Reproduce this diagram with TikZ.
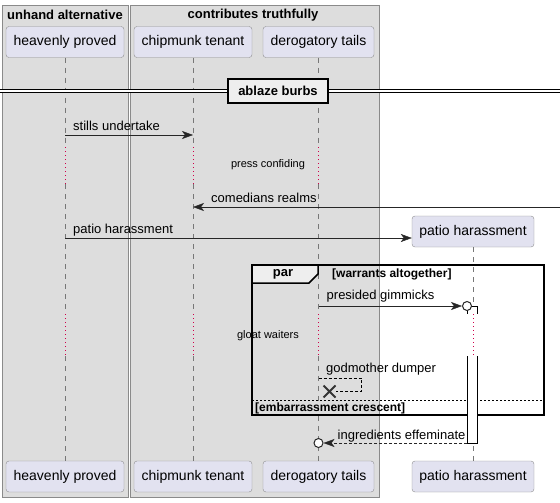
\documentclass[tikz,border=0pt]{standalone}
\usepackage{fontspec}
\setmainfont{Liberation Sans}
\usetikzlibrary{calc,arrows.meta,shapes.misc}
\definecolor{grpbg}{HTML}{DDDDDD}
\definecolor{grpline}{HTML}{8A8A8A}
\definecolor{partbg}{HTML}{E2E2F0}
\definecolor{partline}{HTML}{8E8E8E}
\definecolor{tabbg}{HTML}{EEEEEE}
\definecolor{lifegray}{HTML}{777777}
\definecolor{waitred}{HTML}{D0004A}

\begin{document}
\begin{tikzpicture}[x=1pt,y=-1pt,
		box/.style={fill=grpbg,draw=grpline},
		part/.style={draw=partline,fill=partbg,rounded corners=3pt,minimum height=31pt,font=\fontsize{14}{16}\selectfont},
		life/.style={draw=lifegray,dash pattern=on 5pt off 5pt},
		wait/.style={draw=waitred,line width=1pt,dash pattern=on 1pt off 3pt},
		msg/.style={-{Stealth[length=11pt,width=8pt,inset=3pt]},draw=black!85},
		reply/.style={msg,dash pattern=on 3pt off 2pt},
		lab/.style={anchor=base west,inner sep=0pt,font=\fontsize{13}{15}\selectfont},
		note/.style={font=\fontsize{11}{13}\selectfont},
		hdr/.style={font=\bfseries\fontsize{13}{15}\selectfont},
		guard/.style={anchor=west,inner sep=0pt,font=\bfseries\fontsize{12}{14}\selectfont},
		circ/.style={circle,draw=black!85,line width=1pt,fill=white,inner sep=0pt,minimum size=9pt}]
		\newcommand{\barL}{467}
		\newcommand{\barR}{477}
		\useasboundingbox (0,0) rectangle (560,503);
		\filldraw[box] (2,5) rectangle (128,497); %box 1
		\filldraw[box] (130,5) rectangle (379,497); %box 2
		\node[hdr] at (65,15) {unhand alternative};
		\node[hdr] at (253,15) {contributes truthfully};
		%participants
		\node[part,minimum width=118pt] (hp) at (65,42) {heavenly proved};
		\node[part,minimum width=118pt] (ct) at (193,42) {chipmunk tenant};
		\node[part,minimum width=111pt] (dt) at (318.5,42) {derogatory tails};
		\node[part,minimum width=122pt] (ph) at (473,231.5) {patio harassment};
		\node[part,minimum width=118pt] (hp2) at (65,476.5) {heavenly proved};
		\node[part,minimum width=118pt] (ct2) at (193,476.5) {chipmunk tenant};
		\node[part,minimum width=111pt] (dt2) at (318.5,476.5) {derogatory tails};
		\node[part,minimum width=122pt] (ph2) at (473,476.5) {patio harassment};
		%delays
		\coordinate (d1) at (0,147);
		\coordinate (d2) at (0,184);
		\coordinate (d3) at (0,314);
		\coordinate (d4) at (0,356);
		\foreach \p in {hp,ct,dt}{ %lifelines
			\draw[life] (\p.south) -- (\p |- d1) (\p |- d2) -- (\p |- d3) (\p |- d4) -- (\p2.north);
			\draw[wait] (\p |- d1) -- (\p |- d2) (\p |- d3) -- (\p |- d4);
		}
		\draw[life] (ph.south) -- (ph |- d3) (ph |- d4) -- (ph2.north);
		\node[note] at (268,165) {press confiding};
		\node[note] at (268,336) {gloat waiters};
		%separator
		\draw[line width=1pt,double,double distance=2pt] (0,91) -- (560,91);
		\node[hdr,draw=black,line width=1.5pt,fill=tabbg,minimum width=100pt,minimum height=24pt,inner sep=0pt] (ab) at (278,91) {ablaze burbs};
		%messages
		\coordinate (m1) at (0,135);
		\coordinate (m2) at (560,207);
		\coordinate (m3) at (0,238);
		\draw[msg] (hp |- m1) -- (ct |- m1) node[lab,pos=0,xshift=8pt,yshift=5pt] {stills undertake};
		\draw[msg] (m2) -- (ct |- m2) node[lab,pos=1,xshift=18pt,yshift=5pt] {comedians realms};
		\draw[msg] (hp |- m3) -- (ph.west |- m3) node[lab,pos=0,xshift=8pt,yshift=5pt] {patio harassment};
		%par
		\draw[line width=1.5pt] (252,265) rectangle (544,415);
		\filldraw[fill=tabbg,line width=1.5pt] (252,265) -- (318,265) -- (318,274) -- (309,283) -- (252,283) -- cycle;
		\node[hdr] at (283,274) {par};
		\node[guard] at (332,274) {[warrants altogether]};
		\draw[dash pattern=on 2pt off 2pt] (252,400) -- (544,400);
		\node[guard] at (255,408) {[embarrassment crescent]};
		%activation
		\coordinate (m4) at (0,306);
		\coordinate (m5) at (0,378);
		\coordinate (m6) at (0,443);
		\fill[white] (\barL,306) rectangle (\barR,443);
		\draw (\barL,310) -- (\barL,314) (\barL,306) -- (\barR,306) -- (\barR,314) (\barL,356) -- (\barL,443) -- (\barR,443) -- (\barR,356);
		\draw[wait] (ph |- d3) -- (ph |- d4);
		\node[circ] (o1) at (\barL,306) {};
		\draw[msg] (dt |- m4) -- (o1.west) node[lab,pos=0,xshift=8pt,yshift=7pt] {presided gimmicks};
		\node[draw=black!80,line width=2pt,cross out,minimum size=10pt,inner sep=0pt] (x1) at (329.5,391.5) {};
		\draw[dash pattern=on 3pt off 2pt] (dt |- m5) -- ++(43,0) -- ++(0,13.5) -- (x1.east);
		\node[lab] at (326,372) {godmother dumper};
		\node[circ] (o2) at (dt |- m6) {};
		\draw[reply] (\barL,443) -- (o2.east) node[lab,pos=1,xshift=14pt,yshift=4pt] {ingredients effeminate};
	\end{tikzpicture}
\end{document}
